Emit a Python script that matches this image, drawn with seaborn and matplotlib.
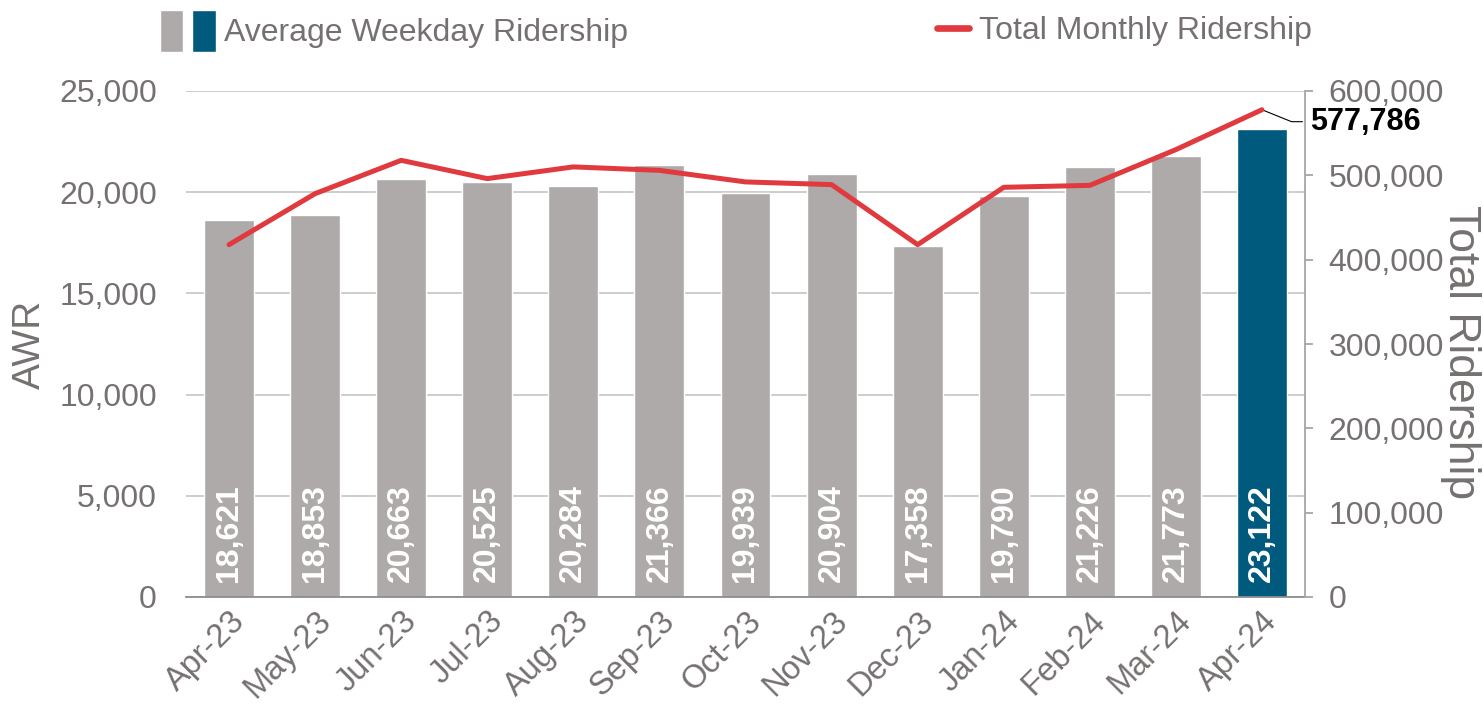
import matplotlib
matplotlib.use("Agg")
import matplotlib.pyplot as plt
import seaborn as sns
import numpy as np
import pandas as pd
from matplotlib.patches import Patch
from matplotlib.lines import Line2D
from matplotlib.legend_handler import HandlerTuple
from matplotlib.ticker import FuncFormatter, MultipleLocator

# data
months = ["Apr-23", "May-23", "Jun-23", "Jul-23", "Aug-23", "Sep-23", "Oct-23",
          "Nov-23", "Dec-23", "Jan-24", "Feb-24", "Mar-24", "Apr-24"]
awr = [18621, 18853, 20663, 20525, 20284, 21366, 19939, 20904, 17358, 19790, 21226, 21773, 23122]
total_monthly = [417800, 478300, 517800, 496100, 510000, 505900, 492200, 489000,
                 417800, 485800, 488100, 530500, 577786]

GRAY = "#AEAAAA"
BLUE = "#005A7E"
RED = "#E0393E"
TXT = "#767171"

sns.set_style("white")
plt.rcParams['font.family'] = ['Liberation Sans', 'DejaVu Sans']

df = pd.DataFrame({"month": months, "awr": awr, "total": total_monthly})
df["pos"] = np.arange(len(df))
bar_colors = [GRAY] * (len(df) - 1) + [BLUE]

fig = plt.figure(figsize=(14.83, 7.04), dpi=100)
ax = fig.add_axes([186/1483, 1-597/704, (1305-186)/1483, (597-91)/704])

sns.barplot(data=df, x="month", y="awr", hue="month", palette=bar_colors,
            legend=False, width=0.58, ax=ax, saturation=1, zorder=2)
ax.set_ylim(0, 25000)
ax.set_xlim(-0.5, len(df) - 0.5)
ax.yaxis.set_major_locator(MultipleLocator(5000))
ax.yaxis.set_major_formatter(FuncFormatter(lambda v, p: f"{int(v):,}"))
ax.grid(axis="y", color="#C0C0C0", lw=1.1, zorder=0)
ax.set_axisbelow(True)
for s in ["left", "top", "right"]:
    ax.spines[s].set_visible(False)
ax.spines["bottom"].set_color("#8C8C8C")
ax.spines["bottom"].set_linewidth(1.3)
ax.tick_params(axis="y", length=0, pad=21, labelsize=23, labelcolor=TXT)
ax.set_xticks(df["pos"])
ax.set_xticklabels(months, rotation=45, ha="right", rotation_mode="anchor")
ax.tick_params(axis="x", which="major", length=0, pad=6, labelsize=23.5, labelcolor=TXT)
ax.set_xticks(np.arange(-0.5, len(df), 1), minor=True)
ax.tick_params(axis="x", which="minor", length=8, width=1.3, color="#8C8C8C", direction="out")
ax.set_xlabel("")
ax.set_ylabel("AWR", fontsize=28, color=TXT, labelpad=8)

# bar labels, inside base
for i, v in enumerate(awr):
    ax.annotate(f"{v:,}", xy=(i, 0), xytext=(0, 11), textcoords="offset points",
                rotation=90, ha="center", va="bottom", color="white",
                fontsize=23, fontweight="bold", zorder=3)

# line on secondary axis
ax2 = ax.twinx()
sns.lineplot(data=df, x="pos", y="total", color=RED, lw=3.6, ax=ax2, sort=False, zorder=4)
ax2.set_ylim(0, 600000)
ax2.yaxis.set_major_locator(MultipleLocator(100000))
ax2.yaxis.set_major_formatter(FuncFormatter(lambda v, p: f"{int(v):,}"))
for s in ["left", "top", "bottom"]:
    ax2.spines[s].set_visible(False)
ax2.spines["right"].set_color("#A6A6A6")
ax2.spines["right"].set_linewidth(1.3)
ax2.tick_params(axis="y", length=6, width=1.3, color="#A6A6A6", pad=11,
                labelsize=23, labelcolor=TXT)
ax2.set_ylabel("")
ax2.set_xlabel("")
ax2.set_xlim(-0.5, len(df) - 0.5)
fig.text(1460/1483, 1-352/704, "Total Ridership", rotation=270, ha="center", va="center",
         fontsize=32, color=TXT)

ax2.annotate(f"{total_monthly[-1]:,}", xy=(len(df) - 1, total_monthly[-1]),
             xytext=(34.5, -8.6), textcoords="offset points", ha="left", va="center",
             fontsize=22, fontweight="bold", color="black",
             arrowprops=dict(arrowstyle="-", color="black", lw=0.8, shrinkA=3, shrinkB=0,
                             connectionstyle="angle,angleA=0,angleB=-22,rad=0"))

# legends
h1 = (Patch(facecolor=GRAY), Patch(facecolor=BLUE))
fig.legend(handles=[h1], labels=["Average Weekday Ridership"],
           handler_map={tuple: HandlerTuple(ndivide=None, pad=0.28)},
           loc="center left", bbox_to_anchor=(160/1483, 1-31/704), frameon=False,
           fontsize=23, handlelength=1.75, handleheight=1.6, handletextpad=0.25,
           borderpad=0, borderaxespad=0, labelcolor=TXT)
fig.legend(handles=[Line2D([], [], color=RED, lw=4.8)], labels=["Total Monthly Ridership"],
           loc="center left", bbox_to_anchor=(937/1483, 1-31/704), frameon=False,
           fontsize=23, handlelength=1.0, handletextpad=0.3,
           borderpad=0, borderaxespad=0, labelcolor=TXT)

fig.savefig("out.png", dpi=100)
plt.close()
